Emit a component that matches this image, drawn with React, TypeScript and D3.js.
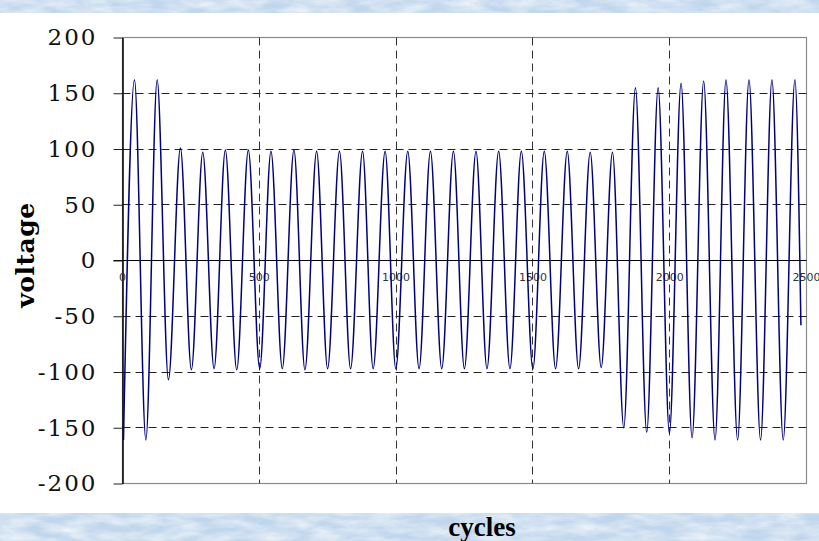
import React, { useEffect, useRef } from 'react';
import * as d3 from 'd3';

// extremes of the waveform (troughs / peaks), plus the last sample
const cycles = [
    3.6, 43.8, 85.4, 126.6, 167.9, 211.7, 251.8, 293.4, 334.7, 375.9,
    417.5, 459.9, 501.5, 542.7, 584, 626.6, 666.8, 709.5, 749.6, 793,
    833.6, 877.4, 916.1, 959.9, 998.9, 1042.7, 1083.9, 1125.5, 1166.8, 1209.5,
    1249.6, 1292, 1332.1, 1374.8, 1416.1, 1457.7, 1500, 1541.6, 1582.8, 1625.5,
    1667, 1709.5, 1749.6, 1790.9, 1832.1, 1874.8, 1916, 1957.7, 1998.9, 2041.6,
    2081.8, 2124.1, 2165.7, 2205.8, 2248.2, 2289.8, 2332.1, 2373.7, 2414.9, 2457.7,
    2479.6,
];
const voltage = [
    -161, 162, -161, 162, -107, 101, -98, 97, -97, 99,
    -98, 99, -97, 98, -97, 99, -98, 98, -97, 98,
    -97, 98, -97, 98, -97, 98, -97, 98, -97, 98,
    -97, 98, -97, 98, -97, 98, -97, 98, -97, 98,
    -97, 97, -96, 97, -150, 155, -154, 155, -155, 159,
    -159, 161, -161, 162, -161, 162, -161, 162, -161, 162,
    -58,
];

const yTicks = [-200, -150, -100, -50, 0, 50, 100, 150, 200];
const yGrid = [-150, -100, -50, 50, 100, 150];
const xTicks = [0, 500, 1000, 1500, 2000, 2500];
const xGrid = [500, 1000, 1500, 2000];

export default function App() {
    const svgRef = useRef<SVGSVGElement>(null);

    useEffect(() => {
        if (!svgRef.current) return;
        const width = 819;
        const height = 541;
        const left = 122.5, right = 806.5, top = 37.5, bottom = 483.5;

        const svg = d3.select(svgRef.current);
        svg.selectAll('*').remove();

        // texture for the blue bands
        const defs = svg.append('defs');
        const filter = defs.append('filter').attr('id', 'tex')
            .attr('x', 0).attr('y', 0).attr('width', '100%').attr('height', '100%');
        filter.append('feTurbulence')
            .attr('type', 'fractalNoise')
            .attr('baseFrequency', '0.035 0.12')
            .attr('numOctaves', 3)
            .attr('seed', 7);
        filter.append('feColorMatrix')
            .attr('type', 'matrix')
            .attr('values', '0 0 0 0 1  0 0 0 0 1  0 0 0 0 1  1.1 0 0 0 -0.3');

        svg.append('rect').attr('width', width).attr('height', height).attr('fill', '#ffffff');
        [[0, 13], [513, 28]].forEach(([y0, h]) => {
            svg.append('rect').attr('x', 0).attr('y', y0).attr('width', width).attr('height', h)
                .attr('fill', '#c0d6ec');
            svg.append('rect').attr('x', 0).attr('y', y0).attr('width', width).attr('height', h)
                .attr('filter', 'url(#tex)');
        });

        const x = d3.scaleLinear().domain([0, 2500]).range([left, right]);
        const y = d3.scaleLinear().domain([-200, 200]).range([bottom, top]);
        const snap = (v: number) => Math.round(v - 0.5) + 0.5;

        // plot frame
        svg.append('rect')
            .attr('x', left).attr('y', top)
            .attr('width', right - left).attr('height', bottom - top)
            .attr('fill', 'none').attr('stroke', '#8a8a8a').attr('stroke-width', 1.2);

        // grid
        svg.append('g').selectAll('line').data(yGrid).join('line')
            .attr('x1', left).attr('x2', right)
            .attr('y1', d => snap(y(d))).attr('y2', d => snap(y(d)))
            .attr('stroke', '#222').attr('stroke-dasharray', '8,5');
        svg.append('g').selectAll('line').data(xGrid).join('line')
            .attr('y1', top).attr('y2', bottom)
            .attr('x1', d => snap(x(d))).attr('x2', d => snap(x(d)))
            .attr('stroke', '#333').attr('stroke-dasharray', '8,5');

        // zero line
        svg.append('line')
            .attr('x1', left - 9).attr('x2', right)
            .attr('y1', snap(y(0))).attr('y2', snap(y(0)))
            .attr('stroke', '#000').attr('stroke-width', 1.1);

        // y axis
        const yAxis = d3.axisLeft(y)
            .tickValues(yTicks)
            .tickSize(9)
            .tickSizeOuter(0)
            .tickPadding(16)
            .tickFormat(d => String(d));
        const gy = svg.append('g')
            .attr('transform', `translate(${left},0)`)
            .call(yAxis);
        gy.select('.domain').attr('stroke', '#000').attr('stroke-width', 1.5);
        gy.selectAll('.tick line').attr('stroke', '#222');
        gy.selectAll('.tick text')
            .attr('fill', '#111')
            .style('font-family', '"DejaVu Serif", serif')
            .style('font-size', '23px')
            .style('letter-spacing', '2px');

        // x tick labels sit on the zero line
        svg.append('g').selectAll('text').data(xTicks).join('text')
            .attr('x', d => x(d))
            .attr('y', snap(y(0)) + 20)
            .attr('text-anchor', 'middle')
            .attr('fill', '#333')
            .style('font-family', '"DejaVu Sans", sans-serif')
            .style('font-size', '11px')
            .text(d => String(d));

        // waveform
        const pts = cycles.map((c, i) => [c, voltage[i]] as [number, number]);
        const line = d3.line<[number, number]>()
            .x(d => x(d[0]))
            .y(d => y(d[1]))
            .curve(d3.curveMonotoneX);
        svg.append('path')
            .datum(pts)
            .attr('fill', 'none')
            .attr('stroke', '#000080')
            .attr('stroke-width', 1.5)
            .attr('d', line);

        // axis titles
        svg.append('text')
            .attr('transform', 'translate(34,255) rotate(-90)')
            .attr('text-anchor', 'middle')
            .attr('fill', '#000')
            .style('font-family', '"DejaVu Serif", serif')
            .style('font-weight', 'bold')
            .style('font-size', '25px')
            .style('letter-spacing', '0.5px')
            .text('voltage');

        svg.append('text')
            .attr('x', 482)
            .attr('y', 536)
            .attr('text-anchor', 'middle')
            .attr('fill', '#000')
            .style('font-family', '"Liberation Serif", serif')
            .style('font-weight', 'bold')
            .style('font-size', '27px')
            .text('cycles');
    }, []);

    return (
        <svg
            ref={svgRef}
            width={819}
            height={541}
            style={{ position: 'absolute', left: 0, top: 0, display: 'block' }}
        />
    );
}
